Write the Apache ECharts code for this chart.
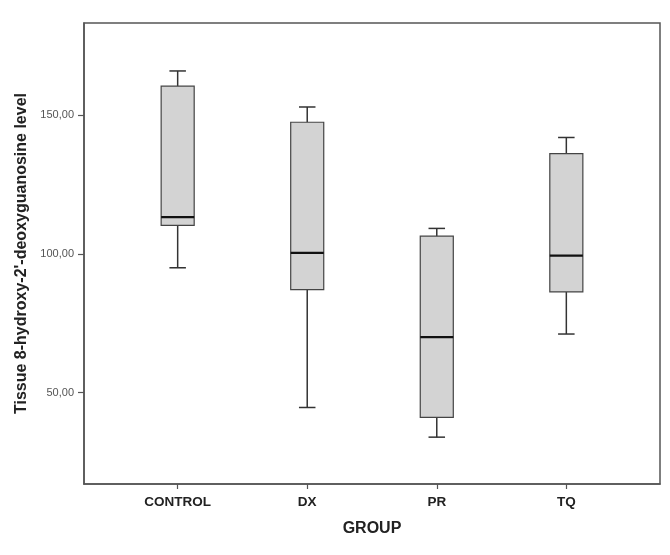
<!DOCTYPE html>
<html>
<head>
<meta charset="utf-8">
<script src="https://cdn.jsdelivr.net/npm/echarts@6/dist/echarts.min.js"></script>
<style>
  html, body { margin: 0; padding: 0; background: #fff; }
  #main { width: 670px; height: 555px; }
</style>
</head>
<body>
<div id="main"></div>
<script>
// groups and box statistics
var categories = ['CONTROL', 'DX', 'PR', 'TQ']
var whiskerLow = [95, 44.6, 33.9, 71.1]
var q1 = [110.3, 87.1, 41, 86.3]
var median = [113.3, 100.4, 70, 99.4]
var q3 = [160.5, 147.5, 106.4, 136.2]
var whiskerHigh = [166, 153, 109.2, 142]
var yTicks = [50, 100, 150]

var boxData = categories.map(function (c, i) {
  return [i, whiskerLow[i], q1[i], median[i], q3[i], whiskerHigh[i]]
})

var lineStyle = { stroke: '#333', lineWidth: 1.5 }

function renderBox (params, api) {
  var i = api.value(0)
  var w = api.size([1, 0])[0] * 0.255 // box width
  var pLow = api.coord([i, api.value(1)])
  var pQ1 = api.coord([i, api.value(2)])
  var pMed = api.coord([i, api.value(3)])
  var pQ3 = api.coord([i, api.value(4)])
  var pHigh = api.coord([i, api.value(5)])
  var x = pMed[0]
  return {
    type: 'group',
    children: [
      { type: 'line', shape: { x1: x, y1: pLow[1], x2: x, y2: pQ1[1] }, style: lineStyle },
      { type: 'line', shape: { x1: x, y1: pQ3[1], x2: x, y2: pHigh[1] }, style: lineStyle },
      { type: 'line', shape: { x1: x - w / 4, y1: pLow[1], x2: x + w / 4, y2: pLow[1] }, style: lineStyle },
      { type: 'line', shape: { x1: x - w / 4, y1: pHigh[1], x2: x + w / 4, y2: pHigh[1] }, style: lineStyle },
      {
        type: 'rect',
        shape: { x: x - w / 2, y: pQ3[1], width: w, height: pQ1[1] - pQ3[1] },
        style: { fill: '#d3d3d3', stroke: '#444', lineWidth: 1.2 }
      },
      { type: 'line', shape: { x1: x - w / 2, y1: pMed[1], x2: x + w / 2, y2: pMed[1] }, style: { stroke: '#111', lineWidth: 2.2 } }
    ]
  }
}

var chart = echarts.init(document.getElementById('main'))
chart.setOption({
  animation: false,
  textStyle: { fontFamily: 'Arial, "Liberation Sans", sans-serif' },
  grid: {
    left: 84, right: 10, top: 23, bottom: 71,
    show: true, borderColor: '#555', borderWidth: 1.5
  },
  xAxis: {
    type: 'value',
    min: -0.723,
    max: 3.723,
    name: 'GROUP',
    nameLocation: 'middle',
    nameGap: 37,
    nameTextStyle: { fontSize: 16, fontWeight: 'bold', color: '#222' },
    splitLine: { show: false },
    axisLine: { show: true, onZero: false, lineStyle: { color: '#555', width: 1.5 } },
    axisTick: { show: true, length: 5, customValues: [0, 1, 2, 3], lineStyle: { color: '#555', width: 1.2 } },
    axisLabel: {
      customValues: [0, 1, 2, 3],
      formatter: function (v) { return categories[Math.round(v)] },
      fontSize: 13.5, fontWeight: 'bold', color: '#222', margin: 11
    }
  },
  yAxis: {
    type: 'value',
    min: 17,
    max: 183.3,
    name: "Tissue 8-hydroxy-2'-deoxyguanosine level",
    nameLocation: 'middle',
    nameGap: 53,
    nameTextStyle: { fontSize: 16, fontWeight: 'bold', color: '#222' },
    splitLine: { show: false },
    axisLine: { show: true, onZero: false, lineStyle: { color: '#555', width: 1.5 } },
    axisTick: { show: true, length: 6, customValues: yTicks, lineStyle: { color: '#555', width: 1.2 } },
    axisLabel: {
      customValues: yTicks,
      formatter: function (v) { return v.toFixed(2).replace('.', ',') },
      fontSize: 11, color: '#555', margin: 10
    }
  },
  series: [{
    type: 'custom',
    renderItem: renderBox,
    encode: { x: 0, y: [1, 2, 3, 4, 5] },
    data: boxData
  }]
})
</script>
</body>
</html>
